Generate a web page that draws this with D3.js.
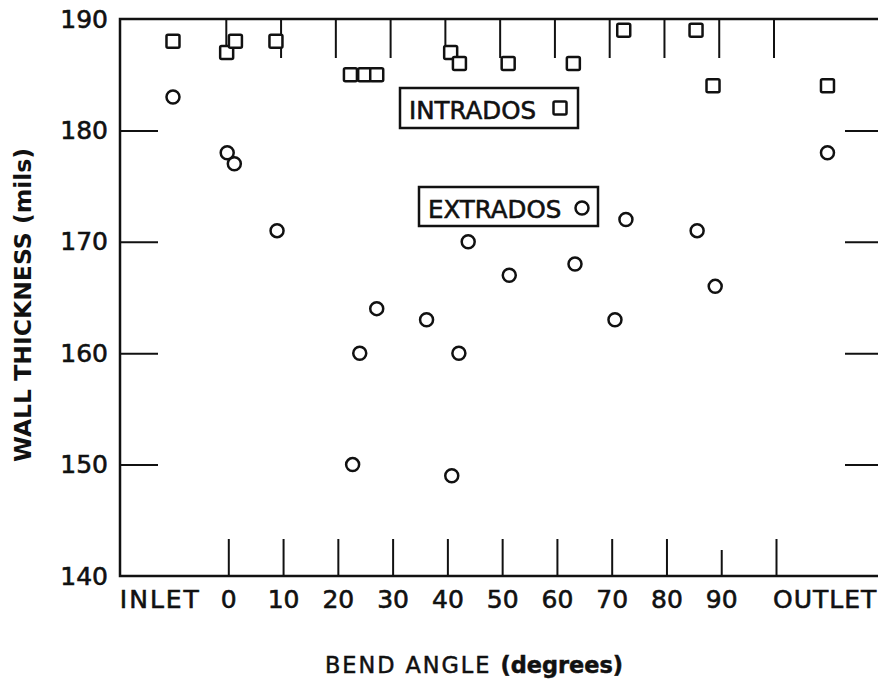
<!DOCTYPE html>
<html>
<head>
<meta charset="utf-8">
<script src="https://cdn.jsdelivr.net/npm/d3@7"></script>
<style>
  html, body { margin: 0; padding: 0; background: #fff; }
  svg { display: block; }
</style>
</head>
<body>
<svg id="chart"></svg>
<script>
// bend angle in degrees; INLET / OUTLET are the straight runs either side of the bend
const intradosAngle = ['INLET', -0.3, 1.3, 8.7, 22.3, 24.9, 27.1, 40.6, 42.2, 51.1, 63.0, 72.2, 85.4, 88.5, 'OUTLET']
const intradosThickness = [188, 187, 188, 188, 185, 185, 185, 187, 186, 186, 186, 189, 189, 184, 184]

const extradosAngle = ['INLET', -0.2, 1.1, 8.9, 22.7, 24.0, 27.1, 36.2, 40.8, 42.1, 43.8, 51.3, 63.3, 70.6, 72.6, 85.6, 88.9, 'OUTLET']
const extradosThickness = [183, 178, 177, 171, 150, 160, 164, 163, 149, 160, 170, 167, 168, 163, 172, 171, 166, 178]

const angleTicks = [0, 10, 20, 30, 40, 50, 60, 70, 80, 90, 100]
const angleLabels = ['INLET', '0', '10', '20', '30', '40', '50', '60', '70', '80', '90', 'OUTLET']
const angleLabelAt = [-12.5, 0, 10, 20, 30, 40, 50, 60, 70, 80, 90, 108.9]
const thicknessTicks = [140, 150, 160, 170, 180, 190]
const innerTicks = [150, 160, 170, 180]

const stationAt = { INLET: -10.1, OUTLET: 109.4 }

const width = 878
const height = 681
const plotLeft = 120, plotRight = 878, plotTop = 19, plotBottom = 576
const ink = '#111'
const font = '"DejaVu Sans", sans-serif'

const svg = d3.select('#chart')
    .attr('width', width)
    .attr('height', height)

const x = d3.scaleLinear().domain([0, 100]).range([228.3, 776])
const y = d3.scaleLinear().domain([140, 190]).range([plotBottom, plotTop])
const pos = a => x(typeof a === 'string' ? stationAt[a] : a)

// frame: left, top and bottom lines (right edge runs off the page)
svg.append('path')
    .attr('d', `M${plotRight},${plotTop}H${plotLeft}V${plotBottom}H${plotRight}`)
    .attr('fill', 'none')
    .attr('stroke', ink)
    .attr('stroke-width', 2.5)

// inward ticks
const tickStyle = g => {
    g.select('.domain').remove()
    g.selectAll('.tick line').attr('stroke', ink).attr('stroke-width', 2)
}

svg.append('g')
    .attr('transform', `translate(0,${plotBottom})`)
    .call(d3.axisTop(x).tickValues(angleTicks).tickSize(37).tickFormat(''))
    .call(tickStyle)
    .selectAll('.tick line')
    .attr('y2', d => d === 90 ? -26 : -37)

svg.append('g')
    .attr('transform', `translate(-2.5,${plotTop})`)
    .call(d3.axisBottom(x).tickValues(angleTicks).tickSize(39).tickFormat(''))
    .call(tickStyle)

svg.append('g')
    .attr('transform', `translate(${plotLeft},0)`)
    .call(d3.axisRight(y).tickValues(innerTicks).tickSize(38).tickFormat(''))
    .call(tickStyle)

svg.append('g')
    .attr('transform', `translate(${plotRight},0)`)
    .call(d3.axisLeft(y).tickValues(innerTicks).tickSize(33).tickFormat(''))
    .call(tickStyle)

// tick labels, lettering a touch heavier like the original
const labelStyle = g => {
    g.select('.domain').remove()
    g.attr('font-family', font).attr('font-size', 25)
    g.selectAll('.tick text')
        .attr('fill', ink)
        .attr('stroke', ink)
        .attr('stroke-width', 0.6)
}

svg.append('g')
    .attr('transform', `translate(${plotLeft},0)`)
    .call(d3.axisLeft(y).tickValues(thicknessTicks).tickSize(0).tickPadding(12))
    .call(labelStyle)

svg.append('g')
    .attr('transform', `translate(0,${plotBottom})`)
    .call(d3.axisBottom(x).tickValues(angleLabelAt).tickSize(0).tickPadding(14)
        .tickFormat((d, i) => angleLabels[i]))
    .call(labelStyle)
    .selectAll('.tick text')
    .attr('letter-spacing', d => d < 0 ? 2 : d > 100 ? 1 : 0)

// axis titles
svg.append('text')
    .attr('transform', 'translate(31,305) rotate(-90)')
    .attr('text-anchor', 'middle')
    .attr('font-family', font)
    .attr('font-weight', 'bold')
    .attr('font-size', 23)
    .attr('fill', ink)
    .attr('textLength', 314)
    .attr('lengthAdjust', 'spacingAndGlyphs')
    .text('WALL THICKNESS (mils)')

const xTitle = svg.append('text')
    .attr('x', 474)
    .attr('y', 673)
    .attr('text-anchor', 'middle')
    .attr('font-family', font)
    .attr('font-size', 23)
    .attr('fill', ink)
    .attr('stroke', ink)
    .attr('stroke-width', 0.5)
    .attr('textLength', 298)
    .attr('lengthAdjust', 'spacingAndGlyphs')
xTitle.append('tspan').attr('letter-spacing', 2).text('BEND ANGLE ')
xTitle.append('tspan').attr('font-weight', 'bold').text('(degrees)')

// markers
const half = 6.5
const square = (sel, cx, cy) => sel.append('rect')
    .attr('x', cx - half).attr('y', cy - half)
    .attr('width', half * 2).attr('height', half * 2)
    .attr('rx', 1.5)
    .attr('fill', '#fff')
    .attr('stroke', ink)
    .attr('stroke-width', 2.5)
const circle = (sel, cx, cy) => sel.append('circle')
    .attr('cx', cx).attr('cy', cy)
    .attr('r', half)
    .attr('fill', '#fff')
    .attr('stroke', ink)
    .attr('stroke-width', 2.5)

const pts = svg.append('g')
extradosAngle.forEach((a, i) => circle(pts, pos(a), y(extradosThickness[i])))
intradosAngle.forEach((a, i) => square(pts, pos(a), y(intradosThickness[i])))

// legend boxes
const legend = [
    { label: 'INTRADOS', box: [400, 88, 178, 40], mark: square, at: [560, 108] },
    { label: 'EXTRADOS', box: [419, 187, 179, 39], mark: circle, at: [582, 208] }
]
legend.forEach(l => {
    const g = svg.append('g')
    g.append('rect')
        .attr('x', l.box[0]).attr('y', l.box[1])
        .attr('width', l.box[2]).attr('height', l.box[3])
        .attr('fill', '#fff')
        .attr('stroke', ink)
        .attr('stroke-width', 2.5)
    g.append('text')
        .attr('x', l.box[0] + 9)
        .attr('y', l.box[1] + 31)
        .attr('font-family', font)
        .attr('font-size', 24.5)
        .attr('fill', ink)
        .attr('stroke', ink)
        .attr('stroke-width', 0.6)
        .text(l.label)
    l.mark(g, l.at[0], l.at[1])
})
</script>
</body>
</html>
